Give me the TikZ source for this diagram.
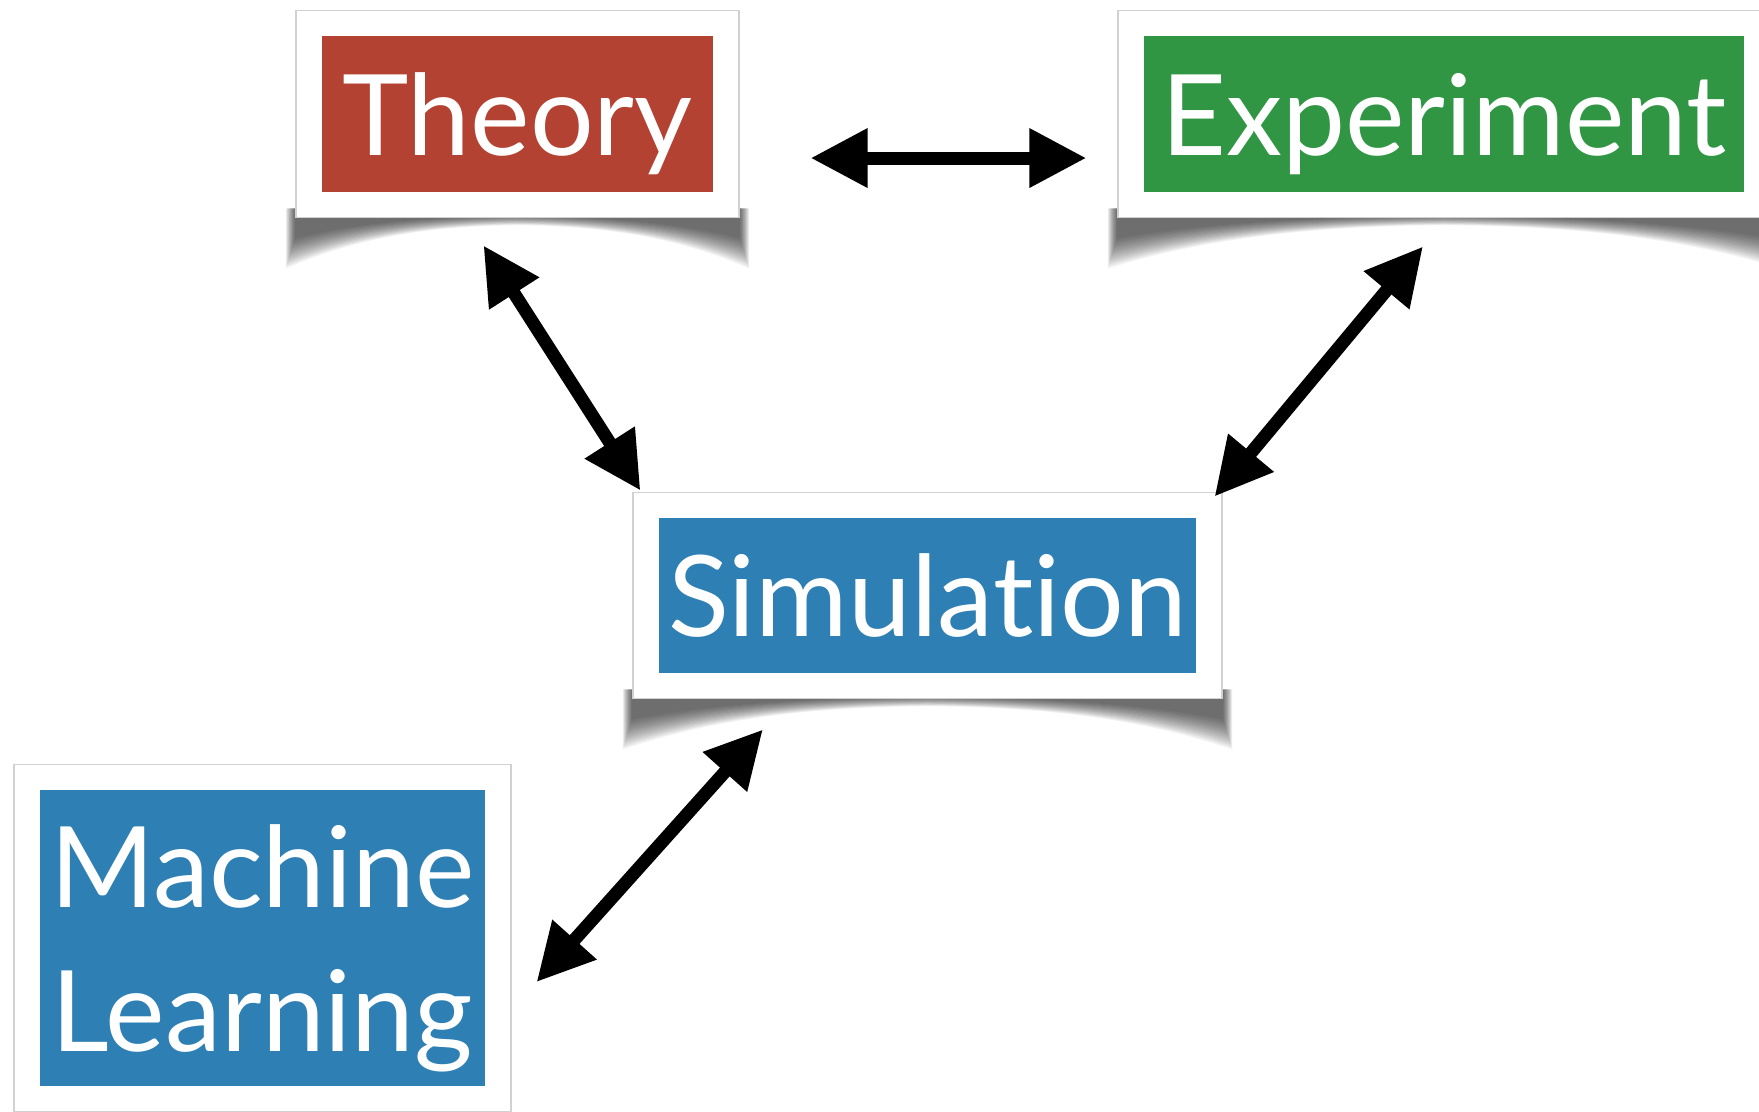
\documentclass[tikz,border=0pt]{standalone}
\usepackage{fontspec}
\setmainfont{Lato}[RawFeature={-liga}]
\usetikzlibrary{arrows.meta, calc, fit, backgrounds}

\definecolor{theoryred}{RGB}{180,66,50}
\definecolor{expgreen}{RGB}{48,150,68}
\definecolor{simblue}{RGB}{46,128,180}

\pgfdeclarelayer{shadow}
\pgfsetlayers{shadow,background,main}

\tikzset{
  labelbox/.style={fill=#1, text=white, inner sep=0pt,
    font=\fontsize{32}{41}\selectfont, text height=0.82cm, text depth=0pt},
  card/.style={fill=white, draw=black!18, line width=0.4pt, inner sep=0.25cm},
  link/.style={<->, line width=1.3mm},
}

% curled paper shadow under a card
\newcommand{\curlshadow}[1]{
  \foreach \k in {1,...,16} {
    \fill[black, opacity=0.05]
      ($(#1.south west)+(-0.6*\k,-10)$) -- ($(#1.south west)+(-0.6*\k,18+2*\k)$)
      .. controls ($(#1.south west)!0.3!(#1.south)+(0,2+0.9*\k)$) and ($(#1.south west)!0.65!(#1.south)+(0,-2+0.6*\k)$)
      .. ($(#1.south)+(0,-3+0.6*\k)$)
      .. controls ($(#1.south)!0.35!(#1.south east)+(0,-2+0.6*\k)$) and ($(#1.south)!0.7!(#1.south east)+(0,2+0.9*\k)$)
      .. ($(#1.south east)+(0.6*\k,18+2*\k)$)
      -- ($(#1.south east)+(0.6*\k,-10)$) -- cycle;
  }
}

\begin{document}
\begin{tikzpicture}[x=0.01cm, y=-0.01cm, >={Triangle[length=5.7mm,width=5.6mm]}]

    \useasboundingbox (0,0) rectangle (1759,1111);
    \clip (0,0) rectangle (1759,1111);

    % Coloured boxes
    \node [labelbox=theoryred, minimum width=3.91cm, minimum height=1.56cm] (theory) at (517.5,114) {Theory};
    \node [labelbox=expgreen, minimum width=6.00cm, minimum height=1.56cm] (experiment) at (1444,114) {Experiment};
    \node [labelbox=simblue, minimum width=5.37cm, minimum height=1.55cm] (sim) at (927.5,595.5) {Simulation};
    \node [labelbox=simblue, minimum width=4.45cm, minimum height=2.96cm, text height={}, align=center] (ml) at (262.5,938) {Machine\\Learning};

    % White cards
    \begin{scope}[on background layer]
        \node [card, fit=(theory)] (theorycard) {};
        \node [card, fit=(experiment)] (experimentcard) {};
        \node [card, fit=(sim)] (simcard) {};
        \node [card, fit=(ml)] (mlcard) {};
    \end{scope}

    % Shadows
    \begin{pgfonlayer}{shadow}
        \curlshadow{theorycard}
        \curlshadow{experimentcard}
        \curlshadow{simcard}
    \end{pgfonlayer}

    % Links
    \draw [link] ([xshift=0.71cm,yshift=-0.44cm]theorycard.east) -- ([xshift=-0.31cm,yshift=-0.44cm]experimentcard.west);
    \draw [link] ([xshift=-0.34cm,yshift=-0.27cm]theorycard.south) -- ([xshift=0.08cm,yshift=0.01cm]simcard.north west);
    \draw [link] ([xshift=-0.21cm,yshift=-0.28cm]experimentcard.south) -- ([xshift=-0.08cm,yshift=-0.05cm]simcard.north east);
    \draw [link] ([xshift=-1.645cm,yshift=-0.30cm]simcard.south) -- ([xshift=0.25cm,yshift=-0.44cm]mlcard.east);

\end{tikzpicture}
\end{document}
